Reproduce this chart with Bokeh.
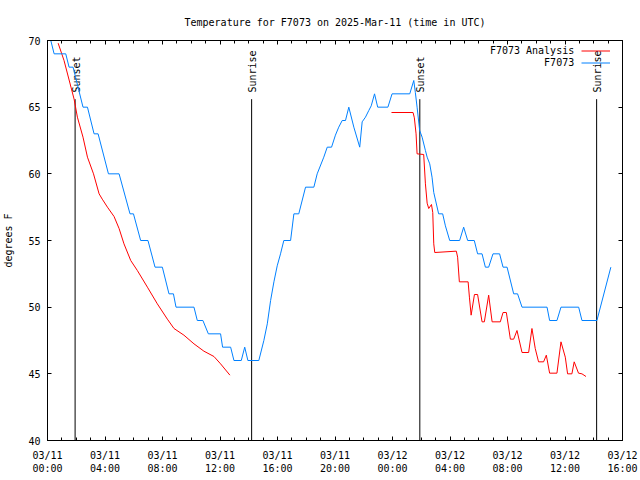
import math
from bokeh.plotting import figure
from bokeh.models import Range1d, FixedTicker, LinearAxis, Legend, LegendItem, Label
from bokeh.core.properties import value
from bokeh.embed import file_html
from bokeh.resources import INLINE

FONT = "DejaVu Sans Mono"
NAN = float("nan")

# Observations (hours since 2025-03-11 00:00 UTC, degrees F)
obs_hours = [0.23, 0.46, 1.27, 1.50, 1.78, 2.47, 2.78, 3.24, 3.52, 4.24, 4.98,
             5.74, 5.98, 6.48, 6.99, 7.48, 7.99, 8.45, 8.76, 8.94, 10.19, 10.42,
             10.81, 11.19, 12.04, 12.18, 12.74, 12.97, 13.48, 13.72, 13.94, 14.70,
             15.05, 15.29, 15.52, 15.75, 15.98, 16.21, 16.44, 16.91, 17.14, 17.48,
             17.95, 18.53, 18.76, 19.22, 19.46, 19.76, 20.03, 20.26, 20.50, 20.73,
             20.96, 21.31, 21.72, 21.89, 22.12, 22.35, 22.52, 22.75, 22.97, 23.68,
             23.97, 25.20, 25.48, 25.59, 25.71, 25.89, 26.06, 26.29, 26.41, 26.59,
             26.75, 26.87, 27.21, 27.49, 27.68, 27.98, 28.67, 28.95, 29.23, 29.69,
             29.92, 30.23, 30.46, 30.69, 30.99, 31.45, 31.69, 31.97, 32.43, 32.70,
             33.01, 34.75, 34.93, 35.44, 35.72, 36.95, 37.18, 38.22, 39.19]
obs_temp = [70, 69, 69, 68, 68, 65, 65, 63, 63, 60, 60,
            57, 57, 55, 55, 53, 53, 51, 51, 50, 50, 49,
            49, 48, 48, 47, 47, 46, 46, 47, 46, 46,
            47.5, 48.75, 50.5, 51.9, 53.1, 54, 55, 55, 57, 57,
            59, 59, 60, 61.25, 62, 62, 62.9, 63.5, 64, 64,
            65, 63.5, 62, 63.9, 64.25, 64.75, 65.1, 66, 65, 65,
            66, 66, 67, 66.1, 65, 63.25, 62.75, 61.75, 61.25, 60.75,
            59.75, 58.6, 57, 57, 56.1, 55, 55, 56, 55, 55,
            54, 54, 53, 53, 54, 54, 53, 53, 51, 51,
            50, 50, 49, 49, 50, 50, 49, 49, 53]

# Analysis (NaN marks the gap between the two runs)
ana_hours = [0.74, 1.15, 1.85, 2.08, 2.47, 2.78, 3.20, 3.59, 3.81, 4.17, 4.63,
             4.98, 5.32, 5.79, 6.25, 6.95, 7.64, 8.34, 8.80, 9.49, 10.19, 10.88,
             11.58, 12.04, 12.69, NAN,
             23.93, 25.43, 25.52, 25.64, 25.71, 26.17, 26.29, 26.41, 26.52, 26.71,
             26.80, 26.87, 26.94, 28.44, 28.53, 28.65, 29.26, 29.35, 29.47, 29.70,
             29.92, 30.23, 30.39, 30.69, 30.93, 31.50, 31.69, 31.92, 32.20, 32.43,
             32.66, 33.01, 33.47, 33.70, 33.93, 34.16, 34.51, 34.70, 34.93, 35.44,
             35.72, 36.02, 36.18, 36.48, 36.64, 36.94, 37.18, 37.46]
ana_temp = [69.8, 68.5, 65.6, 64.25, 62.75, 61.25, 60.0, 58.5, 58.1, 57.5, 56.8,
            55.9, 54.75, 53.5, 52.75, 51.5, 50.25, 49.1, 48.4, 47.9, 47.25, 46.7,
            46.3, 45.75, 44.9, NAN,
            64.6, 64.6, 64.2, 63.0, 61.5, 61.45, 59.25, 57.8, 57.4, 57.7,
            57.1, 54.75, 54.1, 54.2, 53.75, 51.9, 51.9, 50.75, 49.4, 50.95,
            50.95, 48.9, 48.9, 50.9, 48.9, 48.9, 49.6, 49.6, 47.6, 47.6,
            48.25, 46.6, 46.6, 48.4, 46.9, 45.9, 45.9, 46.4, 45.05, 45.05,
            47.4, 46.25, 45.0, 45.0, 45.9, 45.05, 45.0, 44.8]

series_names = ["F7073 Analysis", "F7073"]
series_colors = ["#ff0000", "#0080ff"]

sun_hours = [1.92, 14.20, 25.90, 38.20]
sun_labels = ["Sunset", "Sunrise", "Sunset", "Sunrise"]
sun_line_bottom = [40, 40, 40, 40]
sun_line_top = [65.6, 65.6, 65.6, 65.6]
sun_label_y = [66.1, 66.1, 66.1, 66.1]

x_tick_hours = [0, 4, 8, 12, 16, 20, 24, 28, 32, 36, 40]
x_tick_labels = ["03/11\n00:00", "03/11\n04:00", "03/11\n08:00", "03/11\n12:00",
                 "03/11\n16:00", "03/11\n20:00", "03/12\n00:00", "03/12\n04:00",
                 "03/12\n08:00", "03/12\n12:00", "03/12\n16:00"]
x_minor_hours = list(range(0, 41))
y_ticks = [40, 45, 50, 55, 60, 65, 70]

p = figure(width=640, height=480, x_range=Range1d(0, 40), y_range=Range1d(40, 70),
           output_backend="svg", toolbar_location=None,
           min_border_left=47, min_border_right=18, min_border_top=40, min_border_bottom=40,
           title="Temperature for F7073 on 2025-Mar-11 (time in UTC)")
p.title.text_font = FONT
p.title.text_font_size = "10px"
p.title.text_font_style = "normal"
p.title.align = "center"
p.title.text_color = "black"
p.title.standoff = 26
p.grid.visible = False
p.outline_line_color = "black"
p.outline_line_width = 1
p.background_fill_color = "white"
p.border_fill_color = "white"

xt = FixedTicker(ticks=x_tick_hours, minor_ticks=x_minor_hours)
yt = FixedTicker(ticks=y_ticks)

def style_axis(ax):
    ax.axis_line_color = "black"
    ax.major_tick_in = 4
    ax.major_tick_out = 0
    ax.minor_tick_in = 3
    ax.minor_tick_out = 0
    ax.major_tick_line_color = "black"
    ax.minor_tick_line_color = "black"
    ax.major_label_text_font = FONT
    ax.major_label_text_font_size = "10px"
    ax.major_label_text_color = "black"
    ax.axis_label_text_font = FONT
    ax.axis_label_text_font_size = "10px"
    ax.axis_label_text_font_style = "normal"
    ax.axis_label_text_color = "black"

xa = p.xaxis[0]
xa.ticker = xt
xa.major_label_overrides = {h: lab for h, lab in zip(x_tick_hours, x_tick_labels)}
style_axis(xa)
xa.major_label_standoff = 9

ya = p.yaxis[0]
ya.ticker = yt
style_axis(ya)
ya.minor_tick_in = 0
ya.major_label_standoff = 7
ya.axis_label = "degrees F"
ya.axis_label_standoff = 11

top = LinearAxis(ticker=xt)
style_axis(top)
top.major_label_overrides = {h: "" for h in x_tick_hours}
top.major_label_standoff = 0
p.add_layout(top, "above")

right = LinearAxis(ticker=yt)
style_axis(right)
right.minor_tick_in = 0
right.major_label_overrides = {v: "" for v in y_ticks}
right.major_label_standoff = 0
p.add_layout(right, "right")

p.segment(x0=sun_hours, y0=sun_line_bottom, x1=sun_hours, y1=sun_line_top,
          line_color="black", line_width=1)
p.text(x=sun_hours, y=sun_label_y, text=sun_labels, angle=math.pi / 2,
       text_align="left", text_baseline="middle", x_offset=1,
       text_font=value(FONT), text_font_size="10px", text_color="black")

r_ana = p.line(ana_hours, ana_temp, line_color=series_colors[0], line_width=1)
r_obs = p.line(obs_hours, obs_temp, line_color=series_colors[1], line_width=1)

# gnuplot-style key: right-aligned text followed by the line sample
legend = Legend(items=[LegendItem(label="", renderers=[r_ana]),
                       LegendItem(label="", renderers=[r_obs])],
                location=(534, 372), orientation="vertical",
                label_text_font=FONT, label_text_font_size="10px",
                label_height=11, glyph_height=11, glyph_width=29, label_width=0,
                label_standoff=0, spacing=1, padding=0, margin=0,
                border_line_alpha=0, background_fill_alpha=0)
p.add_layout(legend)

key_label_x = 36.64
key_label_y = [69.25, 68.33]
for name, ky in zip(series_names, key_label_y):
    p.add_layout(Label(x=key_label_x, y=ky, text=name, text_align="right",
                       text_baseline="middle", text_font=FONT,
                       text_font_size="10px", text_color="black"))

open("out.html", "w").write(file_html(p, INLINE))
